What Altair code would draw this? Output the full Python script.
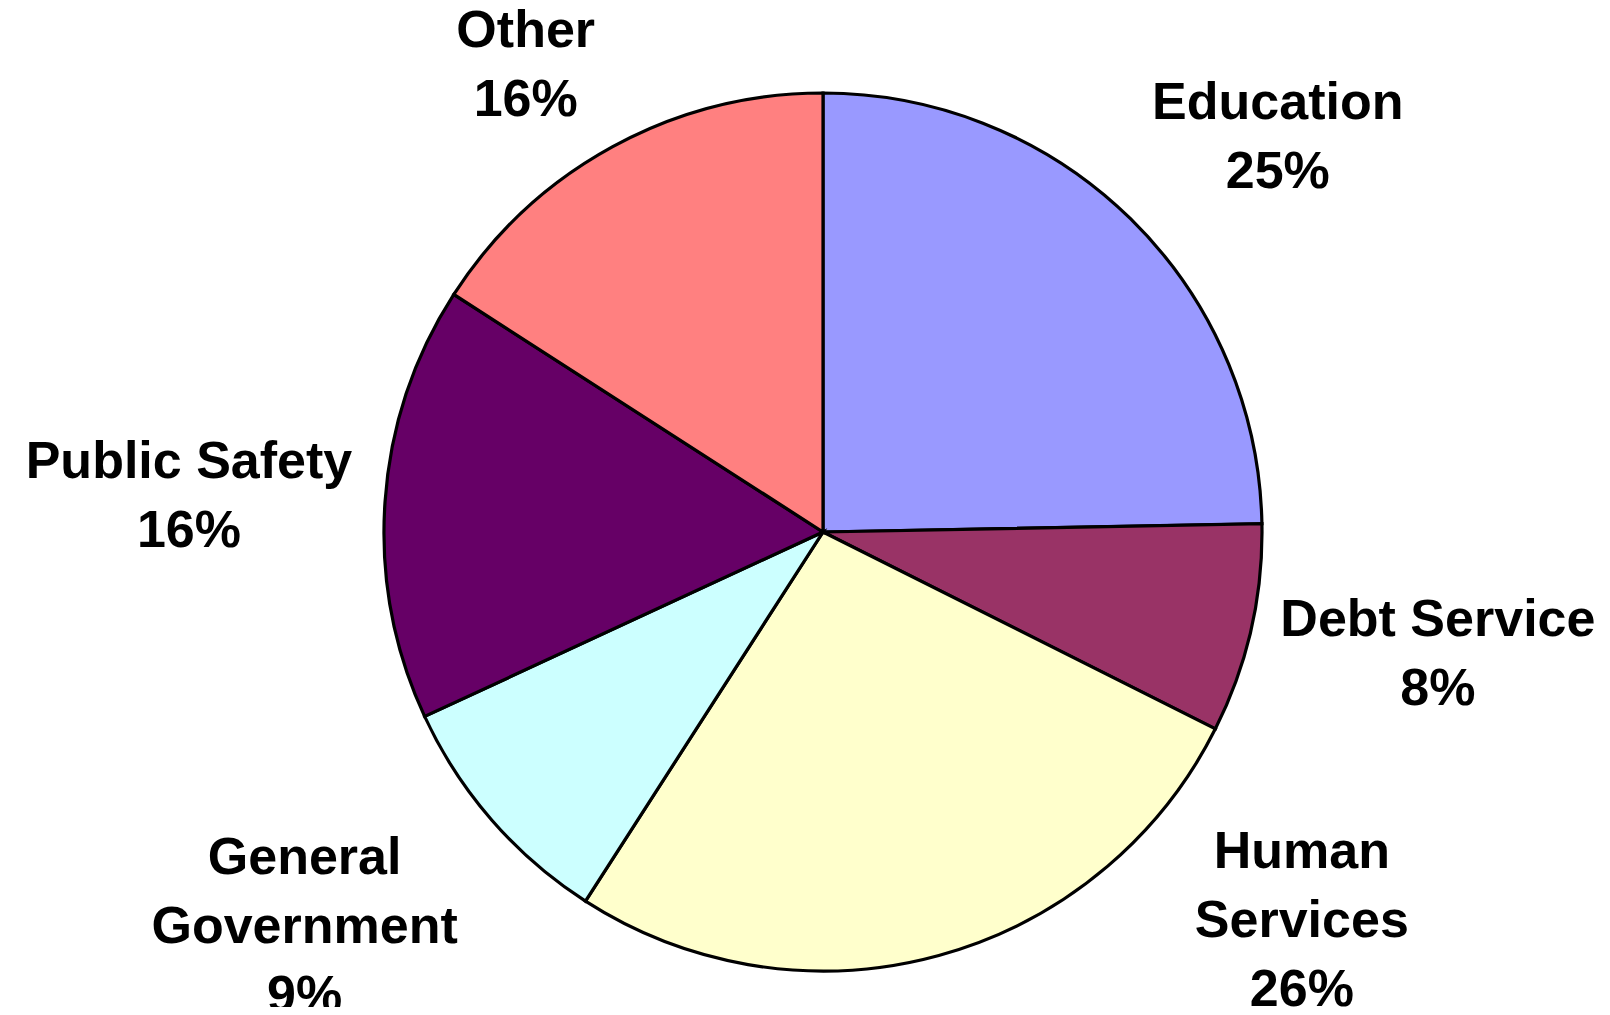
import math
import altair as alt
import pandas as pd

# ---- data ----
categories = ["Education", "Debt Service", "Human Services",
              "General Government", "Public Safety", "Other"]
values = [24.7, 7.7, 26.7, 9.0, 16.0, 15.9]
pct_labels = ["25%", "8%", "26%", "9%", "16%", "16%"]
name_lines = ["Education", "Debt Service", "Human\nServices",
              "General\nGovernment", "Public Safety", "Other"]

# ---- styling / layout ----
colors = ["#9999FF", "#993366", "#FFFFCC", "#CCFFFF", "#660066", "#FF8080"]
label_angle_shift = [4.6, -1.5, -35.6, 3.7, -0.8, -3.9]   # degrees from slice middle
label_distance = [602, 627, 617, 652, 635, 553]            # px from pie centre
W, H = 1594, 999
CX, CY = 815, 524
R = 439
FS = 52
LH = 69

rows = []
cum = 0.0
total = sum(values)
for i, (c, v) in enumerate(zip(categories, values)):
    mid = (cum + v / 2) / total * 360.0
    cum += v
    ang = math.radians(mid + label_angle_shift[i])
    label = name_lines[i] + "\n" + pct_labels[i]
    rows.append({
        "idx": i,
        "category": c,
        "value": v,
        "label": label,
        "nlines": label.count("\n") + 1,
        "lab_theta": ang,
        "lab_r": label_distance[i],
    })
df = pd.DataFrame(rows)

base = alt.Chart(df)

pie = base.mark_arc(outerRadius=R, stroke="black", strokeWidth=3.2).encode(
    theta=alt.Theta("value:Q", stack=True),
    color=alt.Color("category:N",
                    scale=alt.Scale(domain=categories, range=colors),
                    legend=None),
    order=alt.Order("idx:Q", sort="ascending"),
    x=alt.value(CX),
    y=alt.value(CY),
)


def label_layer(n):
    return base.transform_filter(alt.datum.nlines == n).mark_text(
        font="Liberation Sans", fontWeight="bold", fontSize=FS,
        lineHeight=LH, lineBreak="\n", align="center", baseline="middle",
        color="black", dy=-(n - 1) * LH / 2,
    ).encode(
        theta=alt.Theta("lab_theta:Q", scale=None),
        radius=alt.Radius("lab_r:Q", scale=None),
        text="label:N",
        x=alt.value(CX),
        y=alt.value(CY),
    )


chart = alt.layer(pie, label_layer(2), label_layer(3)).resolve_scale(
    theta="independent"
).properties(
    width=W, height=H, padding=0,
    autosize=alt.AutoSizeParams(type="none"),
).configure_view(stroke=None)

chart.save("out.html", embed_options={"renderer": "svg", "actions": False})
